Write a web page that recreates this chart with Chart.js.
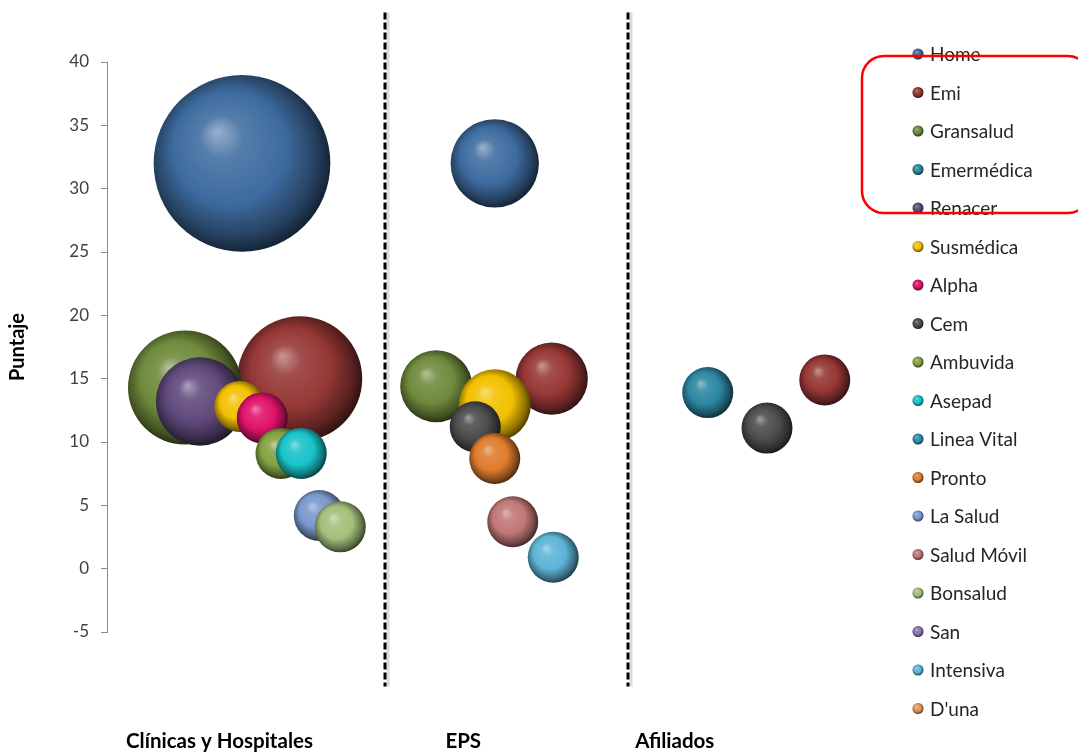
<!DOCTYPE html>
<html>
<head>
<meta charset="utf-8">
<title>Puntaje</title>
<script src="https://cdn.jsdelivr.net/npm/chart.js@4.4.1/dist/chart.umd.min.js"></script>
<style>
    html, body { margin: 0; padding: 0; background: #ffffff; }
    #wrap { width: 1078px; height: 754px; position: relative; }
</style>
</head>
<body>
<div id="wrap"><canvas id="chart"></canvas></div>
<script>
// --- Data --- //
const empresas = ['Home', 'Emi', 'Gransalud', 'Emermédica', 'Renacer', 'Susmédica', 'Alpha', 'Cem',
    'Ambuvida', 'Asepad', 'Linea Vital', 'Pronto', 'La Salud', 'Salud Móvil', 'Bonsalud', 'San',
    'Intensiva', "D'una"];
const colores = ['#3d6b9f', '#953735', '#6f8a3c', '#2c86a2', '#5f497b', '#f2c000', '#e0126a', '#4c4c4c',
    '#84a343', '#18c3c9', '#2f8eab', '#de7c2c', '#7a98cc', '#c07777', '#a4bf7b', '#8c78ae',
    '#5db4d6', '#e3975c'];

const grupos = ['Clínicas y Hospitales', 'EPS', 'Afiliados'];

// one point per group where the company appears: [x, puntaje, tamaño]
const puntosHome = [[1.80, 32.0, 12], [5.17, 32.0, 3]];
const puntosEmi = [[2.57, 15.0, 6], [5.93, 15.0, 2], [9.57, 14.9, 1]];
const puntosGransalud = [[1.04, 14.3, 5], [4.39, 14.4, 2]];
const puntosEmermedica = [[8.01, 13.9, 1]];
const puntosRenacer = [[1.24, 13.2, 3]];
const puntosSusmedica = [[1.77, 12.8, 1], [5.17, 12.9, 2]];
const puntosAlpha = [[2.07, 11.9, 1]];
const puntosCem = [[4.91, 11.2, 1], [8.80, 11.1, 1]];
const puntosAmbuvida = [[2.32, 9.1, 1]];
const puntosAsepad = [[2.59, 9.1, 1]];
const puntosLineaVital = [];
const puntosPronto = [[5.17, 8.7, 1]];
const puntosLaSalud = [[2.83, 4.2, 1]];
const puntosSaludMovil = [[5.41, 3.7, 1]];
const puntosBonsalud = [[3.11, 3.3, 1]];
const puntosSan = [];
const puntosIntensiva = [[5.95, 0.9, 1]];
const puntosDuna = [];

const series = [puntosHome, puntosEmi, puntosGransalud, puntosEmermedica, puntosRenacer, puntosSusmedica,
    puntosAlpha, puntosCem, puntosAmbuvida, puntosAsepad, puntosLineaVital, puntosPronto, puntosLaSalud,
    puntosSaludMovil, puntosBonsalud, puntosSan, puntosIntensiva, puntosDuna];

const yTicks = [-5, 0, 5, 10, 15, 20, 25, 30, 35, 40];

// --- Layout constants --- //
const separadoresX = [3.71, 6.95];
const gruposX = [1.5, 4.75, 7.57];
const RADIO_BASE = 25.5;
const FONT = 'Lato, "Open Sans", sans-serif';

// --- Helpers --- //
function hexToRgb(hex) {
    const n = parseInt(hex.slice(1), 16);
    return [(n >> 16) & 255, (n >> 8) & 255, n & 255];
}

function mix(hex, target, t) {
    const c = hexToRgb(hex);
    const r = c.map(v => Math.round(v + (target - v) * t));
    return `rgb(${r[0]}, ${r[1]}, ${r[2]})`;
}

// radial gradient that gives the glossy sphere look
function esfera(ctx, cx, cy, r, base) {
    const g = ctx.createRadialGradient(cx - r * 0.28, cy - r * 0.36, r * 0.02, cx - r * 0.05, cy - r * 0.05, r * 1.05);
    g.addColorStop(0, mix(base, 255, 0.45));
    g.addColorStop(0.22, mix(base, 255, 0.12));
    g.addColorStop(0.6, base);
    g.addColorStop(0.88, mix(base, 0, 0.4));
    g.addColorStop(1, mix(base, 0, 0.65));
    return g;
}

const datasets = empresas.map((name, i) => ({
    label: name,
    data: series[i].map(p => ({ x: p[0], y: p[1], r: RADIO_BASE * Math.sqrt(p[2]) })),
    order: empresas.length - i, // later series drawn on top, like the original
    borderWidth: 0,
    clip: false,
    backgroundColor: (c) => {
        const base = colores[i];
        if (c.type !== 'data' || !c.raw) return base;
        const xs = c.chart.scales.x;
        const ys = c.chart.scales.y;
        if (!xs || !ys) return base;
        const cx = xs.getPixelForValue(c.raw.x);
        const cy = ys.getPixelForValue(c.raw.y);
        if (!isFinite(cx) || !isFinite(cy)) return base;
        return esfera(c.chart.ctx, cx, cy, c.raw.r, base);
    }
}));

// --- Extra drawing: separators, group names, legend --- //
const decoracion = {
    id: 'decoracion',
    beforeDatasetsDraw(chart) {
        const ctx = chart.ctx;
        const xs = chart.scales.x;
        const ys = chart.scales.y;
        const top = ys.getPixelForValue(43.9);
        const bottom = ys.getPixelForValue(-9.3);
        ctx.save();
        separadoresX.forEach(v => {
            const px = Math.round(xs.getPixelForValue(v));
            ctx.strokeStyle = '#dcdcdc';
            ctx.lineWidth = 3;
            ctx.beginPath();
            ctx.moveTo(px + 3, top);
            ctx.lineTo(px + 3, bottom);
            ctx.stroke();
            ctx.strokeStyle = '#000000';
            ctx.lineWidth = 3;
            ctx.setLineDash([7, 3]);
            ctx.beginPath();
            ctx.moveTo(px, top);
            ctx.lineTo(px, bottom);
            ctx.stroke();
            ctx.setLineDash([]);
        });
        ctx.restore();
    },
    afterDraw(chart) {
        const ctx = chart.ctx;
        const xs = chart.scales.x;
        ctx.save();

        // group names under the plot
        ctx.font = 'bold 20.5px ' + FONT;
        ctx.fillStyle = '#000000';
        ctx.textAlign = 'center';
        ctx.textBaseline = 'middle';
        grupos.forEach((g, i) => {
            ctx.fillText(g, xs.getPixelForValue(gruposX[i]), 741);
        });

        // legend
        const lx = 918;
        const ly = 54;
        const step = 38.5;
        ctx.textAlign = 'left';
        ctx.font = '19px ' + FONT;
        chart.data.datasets.forEach((ds, i) => {
            const y = ly + i * step;
            ctx.fillStyle = esfera(ctx, lx, y, 5.5, colores[i]);
            ctx.beginPath();
            ctx.arc(lx, y, 5.5, 0, Math.PI * 2);
            ctx.fill();
            ctx.fillStyle = '#262626';
            ctx.fillText(ds.label, lx + 12, y + 1);
        });

        // red highlight box around Emi .. Emermédica (right side runs off the picture)
        ctx.strokeStyle = '#ff0000';
        ctx.lineWidth = 2.5;
        ctx.beginPath();
        ctx.roundRect(862, 56, 228, 157, 22);
        ctx.stroke();
        ctx.restore();
    }
};

// --- Chart --- //
new Chart(document.getElementById('chart'), {
    type: 'bubble',
    data: { datasets },
    options: {
        responsive: true,
        maintainAspectRatio: false,
        animation: false,
        events: [],
        layout: { autoPadding: false, padding: { top: 62, bottom: 122, left: 0, right: 221 } },
        plugins: {
            legend: { display: false },
            tooltip: { enabled: false }
        },
        scales: {
            x: {
                type: 'linear',
                min: 0,
                max: 10,
                display: false
            },
            y: {
                type: 'linear',
                min: -5,
                max: 40,
                afterBuildTicks: (scale) => { scale.ticks = yTicks.map(v => ({ value: v })); },
                afterFit: (scale) => { scale.width = 107; },
                border: { display: true, color: '#8c8c8c', width: 1 },
                grid: { display: true, drawOnChartArea: false, drawTicks: true, tickLength: 6, color: '#8c8c8c' },
                ticks: {
                    padding: 12,
                    color: '#404040',
                    font: { family: FONT, size: 17 }
                },
                title: {
                    display: true,
                    text: 'Puntaje',
                    color: '#000000',
                    font: { family: FONT, size: 20, weight: 'bold' },
                    padding: { top: 6, bottom: 0 }
                }
            }
        }
    },
    plugins: [decoracion]
});
</script>
</body>
</html>
